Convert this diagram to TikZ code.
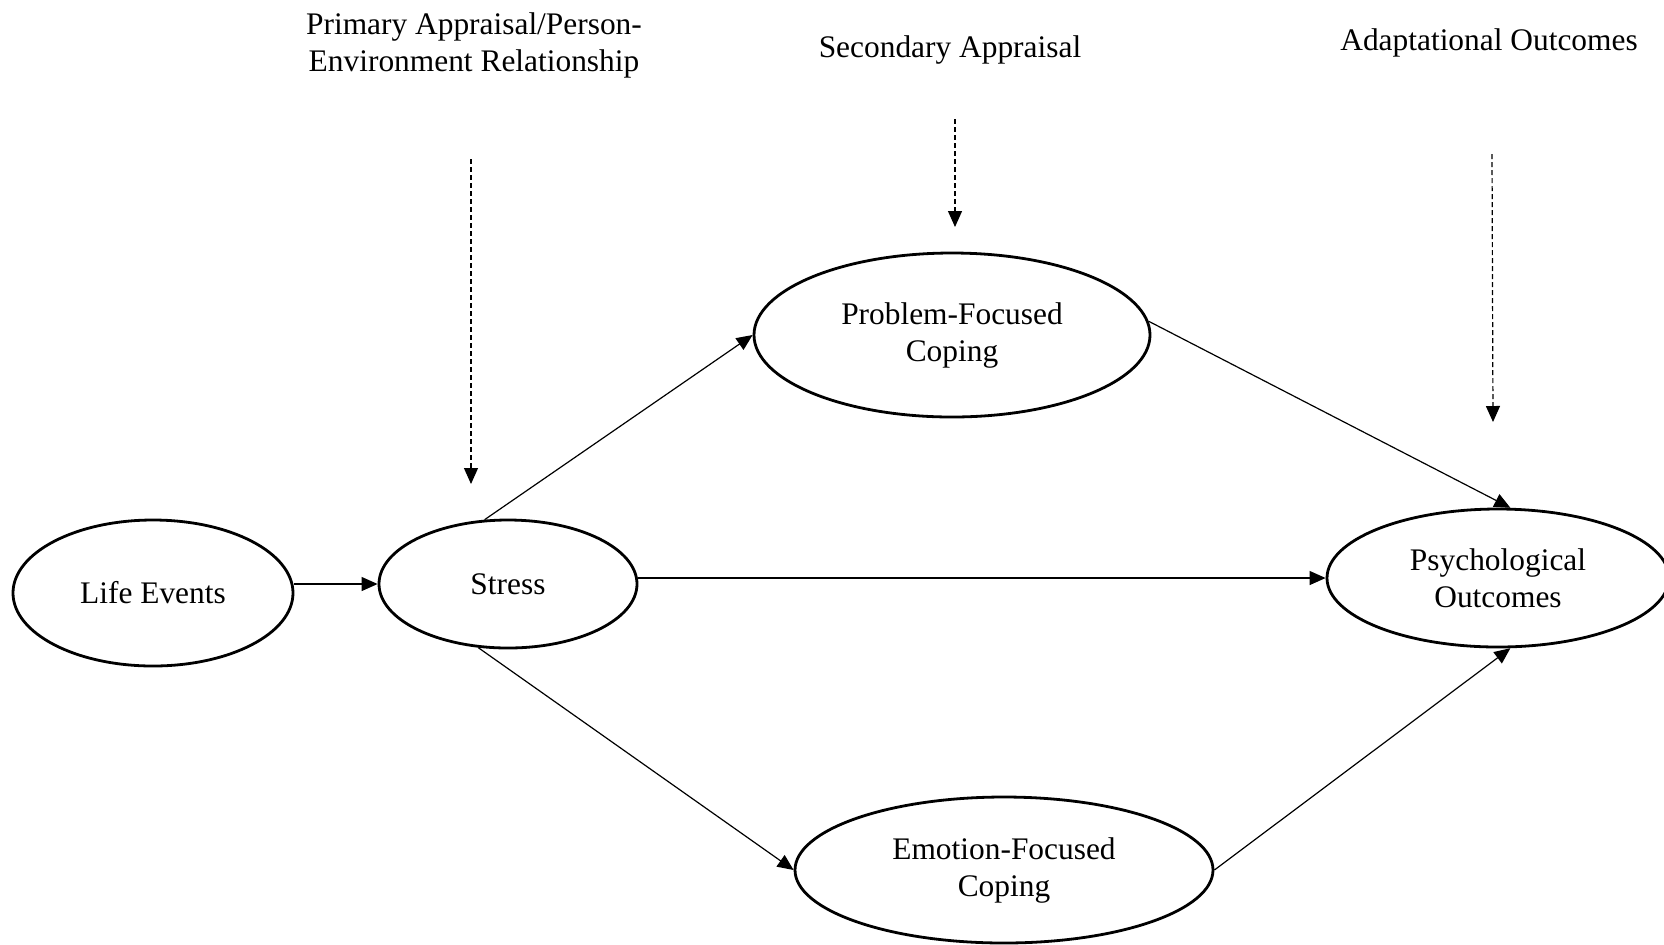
\documentclass[tikz,border=0pt]{standalone}
\usepackage{fontspec}
\setmainfont{Liberation Serif}
\usepackage{tikz}
\usetikzlibrary{shapes, arrows.meta, positioning, calc}

\begin{document}
\begin{tikzpicture}[x=0.5pt, y=-0.5pt,
        var/.style={ellipse, draw=black, line width=1.4pt, inner sep=0pt, align=center, font=\fontsize{15.7}{18.5}\selectfont},
        lbl/.style={align=center, font=\fontsize{15.7}{18.5}\selectfont},
        link/.style={-{Triangle[length=8pt, width=7pt]}, line width=0.6pt},
        appr/.style={-{Triangle[length=8pt, width=7pt]}, line width=0.6pt, dash pattern=on 2.5pt off 1.5pt}
    ]
        \useasboundingbox (0,0) rectangle (1664,944);

        \node[var, minimum width=140pt, minimum height=73pt] (le) at (153,593) {Life Events};
        \node[var, minimum width=129pt, minimum height=64pt] (s) at (508,584) {Stress};
        \node[var, minimum width=198pt, minimum height=82pt] (pf) at (952,335) {Problem-Focused\\Coping};
        \node[var, minimum width=209pt, minimum height=73pt] (ef) at (1004,870) {Emotion-Focused\\Coping};
        \node[var, minimum width=171pt, minimum height=69pt] (po) at (1498,578) {Psychological\\Outcomes};

        % Appraisals
        \node[lbl] (pa) at (474,45) {Primary Appraisal/Person-\\Environment Relationship};
        \node[lbl] (sa) at (950,50) {Secondary Appraisal};
        \node[lbl] (ao) at (1489,43) {Adaptational Outcomes};

        \coordinate (pa1) at (471,159);
        \coordinate (pa2) at (471,484);
        \coordinate (sa1) at (955,119);
        \coordinate (sa2) at (955,227);
        \coordinate (ao1) at (1492,154);
        \coordinate (ao2) at (1493,422);
        \draw[appr] (pa1) -- (pa2);
        \draw[appr] (sa1) -- (sa2);
        \draw[appr] (ao1) -- (ao2);

        % Paths
        \draw[link] (le.east |- s.west) -- (s.west);
        \draw[link] (s.110) -- (pf.west);
        \draw[link] (s.245) -- (ef.west);
        \draw[link] (s.east |- po.west) -- (po.west);
        \draw[link] (pf.4) -- (po.80);
        \draw[link] (ef.east) -- (po.280);
    \end{tikzpicture}
\end{document}
